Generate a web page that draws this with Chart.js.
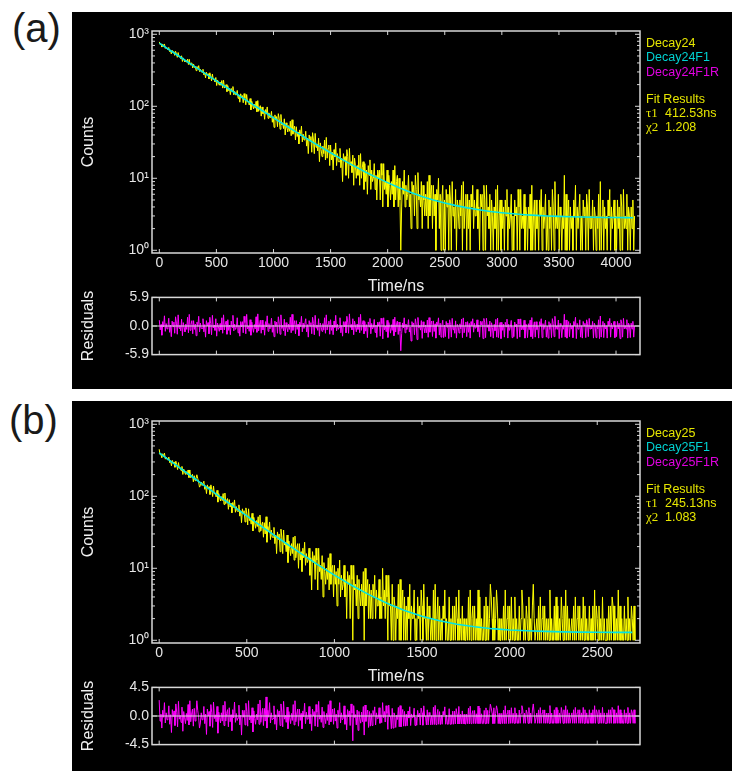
<!DOCTYPE html>
<html>
<head>
<meta charset="utf-8">
<title>Decay24 / Decay25 fits</title>
<script src="https://cdn.jsdelivr.net/npm/chart.js"></script>
<style>
  body { margin: 0; width: 732px; height: 771px; background: #fff; position: relative; overflow: hidden;
         font-family: 'Liberation Sans', Arial, sans-serif; }
  .panel { position: absolute; left: 72px; width: 660px; background: #000; }
  .tag { position: absolute; font-size: 40px; line-height: 40px; color: #1a1a1a; }
  canvas { position: absolute; left: 72px; }
  .leg { position: absolute; left: 646px; font-size: 12.5px; line-height: 14px; white-space: nowrap; }
  .leg .g { font-family: 'Liberation Serif', 'Times New Roman', serif; font-size: 13px; }
  .leg .v { position: absolute; left: 19px; }
</style>
</head>
<body>
  <div class="panel" style="top:12px;height:377px"></div>
  <div class="panel" style="top:401px;height:370px"></div>
  <div class="tag" style="left:12px;top:8px">(a)</div>
  <div class="tag" style="left:9px;top:400px">(b)</div>

  <canvas id="mainA" width="660" height="286" style="top:12px"></canvas>
  <canvas id="resA" width="660" height="80" style="top:286px"></canvas>
  <canvas id="mainB" width="660" height="286" style="top:402px"></canvas>
  <canvas id="resB" width="660" height="80" style="top:676px"></canvas>

  <div class="leg" style="top:36px;color:#e6e600">Decay24</div>
  <div class="leg" style="top:50px;color:#00d2d2">Decay24F1</div>
  <div class="leg" style="top:65px;color:#e000e0">Decay24F1R</div>
  <div class="leg" style="top:92px;color:#e6e600">Fit Results</div>
  <div class="leg" style="top:105.5px;color:#e6e600"><span class="g">τ1</span><span class="v">412.53ns</span></div>
  <div class="leg" style="top:119.5px;color:#e6e600"><span class="g">χ2</span><span class="v">1.208</span></div>

  <div class="leg" style="top:426px;color:#e6e600">Decay25</div>
  <div class="leg" style="top:440px;color:#00d2d2">Decay25F1</div>
  <div class="leg" style="top:455px;color:#e000e0">Decay25F1R</div>
  <div class="leg" style="top:482px;color:#e6e600">Fit Results</div>
  <div class="leg" style="top:495.5px;color:#e6e600"><span class="g">τ1</span><span class="v">245.13ns</span></div>
  <div class="leg" style="top:509.5px;color:#e6e600"><span class="g">χ2</span><span class="v">1.083</span></div>

<script>
// ---- data ----
// (a) Decay24: 7.5 ns channels from 0 ns
const binA = 7.5;
const countsA = [
  785, 719, 736, 665, 727, 685, 734, 636, 666, 624,
  618, 657, 575, 602, 534, 600, 564, 574, 509, 581,
  537, 478, 558, 487, 491, 459, 503, 419, 470, 439,
  413, 438, 409, 452, 380, 449, 376, 393, 401, 340,
  387, 345, 358, 313, 357, 331, 367, 303, 326, 300,
  298, 327, 273, 293, 248, 297, 273, 283, 240, 292,
  264, 225, 281, 234, 240, 219, 251, 194, 232, 212,
  196, 216, 196, 228, 179, 230, 179, 193, 200, 160,
  193, 165, 176, 145, 177, 161, 188, 144, 161, 144,
  144, 166, 129, 144, 114, 149, 134, 141, 112, 150,
  131, 105, 146, 114, 118, 104, 128, 89, 117, 104,
  92, 107, 94, 117, 84, 120, 85, 96, 102, 73,
  98, 79, 88, 66, 90, 78, 98, 68, 81, 70,
  70, 85, 60, 72, 51, 76, 65, 72, 52, 79,
  67, 48, 77, 55, 59, 49, 67, 40, 59, 51,
  44, 54, 45, 62, 39, 65, 41, 48, 53, 34,
  52, 38, 44, 30, 47, 39, 53, 32, 41, 34,
  35, 45, 28, 36, 22, 40, 34, 38, 23, 43,
  34, 22, 42, 27, 30, 24, 36, 17, 31, 25,
  20, 28, 22, 34, 18, 37, 19, 26, 29, 15,
  29, 18, 23, 13, 25, 20, 31, 15, 22, 17,
  17, 26, 14, 19, 9, 22, 18, 20, 11, 25,
  20, 10, 26, 15, 17, 12, 21, 8, 19, 15,
  10, 15, 11, 21, 8, 22, 10, 14, 17, 7,
  16, 9, 13, 6, 15, 11, 18, 7, 13, 9,
  10, 16, 7, 11, 5, 13, 10, 13, 5, 16,
  11, 4, 16, 7, 9, 6, 13, 4, 11, 8,
  5, 9, 6, 13, 4, 15, 5, 9, 11, 4,
  10, 5, 1, 4, 9, 6, 13, 4, 8, 5,
  6, 11, 4, 6, 2, 9, 6, 8, 3, 11,
  7, 2, 12, 5, 6, 4, 9, 2, 8, 5,
  3, 6, 3, 9, 2, 11, 3, 6, 8, 2,
  8, 3, 6, 1, 7, 5, 10, 2, 6, 1,
  5, 8, 1, 5, 1, 7, 4, 6, 1, 8,
  5, 1, 9, 3, 4, 2, 7, 1, 5, 4,
  2, 5, 3, 8, 1, 9, 2, 4, 6, 1,
  6, 2, 5, 1, 6, 4, 8, 2, 5, 3,
  3, 7, 2, 4, 1, 6, 4, 6, 1, 8,
  5, 1, 8, 3, 4, 2, 6, 1, 5, 3,
  1, 4, 2, 7, 1, 8, 1, 3, 5, 1,
  5, 2, 4, 1, 5, 3, 7, 1, 4, 2,
  3, 6, 1, 3, 1, 5, 3, 4, 1, 7,
  4, 1, 7, 2, 3, 2, 6, 1, 4, 3,
  1, 4, 2, 6, 1, 8, 1, 3, 5, 1,
  5, 2, 3, 1, 5, 3, 7, 1, 4, 2,
  3, 6, 1, 3, 1, 5, 2, 4, 1, 7,
  4, 1, 9, 2, 3, 2, 6, 1, 4, 3,
  1, 3, 2, 11, 1, 6, 1, 3, 5, 1,
  4, 2, 3, 1, 5, 3, 8, 1, 4, 2,
  2, 6, 1, 3, 1, 5, 3, 4, 1, 6,
  4, 1, 7, 2, 3, 2, 5, 1, 4, 3,
  1, 3, 2, 6, 1, 9, 1, 3, 5, 1,
  4, 2, 3, 1, 5, 3, 7, 1, 4, 2,
  3, 5, 1, 3, 1, 5, 2, 4, 1, 6,
  4, 1, 7, 2, 3, 2, 6, 1, 4, 3,
  1, 4, 2, 5, 1, 3
];
const fitTimesA = [0, 100, 200, 300, 400, 500, 600, 700, 800, 900, 1000, 1100, 1200, 1300, 1400,
  1500, 1600, 1700, 1800, 1900, 2000, 2100, 2200, 2300, 2400, 2500, 2600, 2700, 2800, 2900,
  3000, 3100, 3200, 3300, 3400, 3500, 3600, 3700, 3800, 3900, 4000, 4100, 4150];
const fitValuesA = [753, 591, 465, 365, 287, 226, 178, 140, 110.6, 87.4, 69.2, 54.9, 43.7, 34.9, 28.0,
  22.6, 18.3, 15.0, 12.3, 10.3, 8.7, 7.4, 6.4, 5.6, 5.0, 4.55, 4.17, 3.88, 3.65, 3.46,
  3.32, 3.21, 3.12, 3.05, 3.0, 2.96, 2.92, 2.90, 2.87, 2.86, 2.85, 2.84, 2.83];
const residA = [
  1.2, -0.8, 0.3, -1.9, 0.9, -0.2, 2.1, -1.1, 0.5, -0.6,
  -0.4, 1.6, -1.3, 0.2, -2.2, 1.0, -0.1, 0.8, -1.5, 1.9,
  0.6, -1.7, 2.3, -0.5, 0.1, -1.0, 1.4, -2.0, 0.7, -0.3,
  -1.2, 0.4, -0.7, 1.8, -1.4, 2.4, -0.9, 0.3, 1.1, -1.6,
  1.1, -0.7, 0.4, -2.0, 0.8, -0.1, 2.0, -1.2, 0.6, -0.5,
  -0.5, 1.5, -1.2, 0.3, -2.3, 1.1, 0.0, 0.7, -1.6, 1.8,
  0.5, -1.8, 2.2, -0.4, 0.2, -0.9, 1.5, -2.1, 0.6, -0.2,
  -1.1, 0.5, -0.8, 1.7, -1.5, 2.3, -0.8, 0.4, 1.0, -1.7,
  1.3, -0.9, 0.2, -1.8, 1.0, -0.3, 2.2, -1.0, 0.4, -0.7,
  -0.3, 1.7, -1.4, 0.1, -2.1, 0.9, -0.2, 0.9, -1.4, 2.0,
  0.7, -1.6, 2.4, -0.6, 0.0, -1.1, 1.3, -1.9, 0.8, -0.4,
  -1.3, 0.3, -0.6, 1.9, -1.3, 2.5, -1.0, 0.2, 1.2, -1.5,
  1.2, -0.8, 0.3, -1.9, 0.9, -0.2, 2.1, -1.1, 0.5, -0.6,
  -0.4, 1.6, -1.3, 0.2, -2.2, 1.0, -0.1, 0.8, -1.5, 1.9,
  0.6, -1.7, 2.3, -0.5, 0.1, -1.0, 1.4, -2.0, 0.7, -0.3,
  -1.2, 0.4, -0.7, 1.8, -1.4, 2.4, -0.9, 0.3, 1.1, -1.6,
  1.1, -0.7, 0.4, -2.0, 0.8, -0.1, 2.0, -1.2, 0.6, -0.5,
  -0.5, 1.5, -1.2, 0.3, -2.3, 1.1, 0.0, 0.7, -1.6, 1.8,
  0.5, -1.8, 2.2, -0.4, 0.2, -0.9, 1.5, -2.1, 0.6, -0.2,
  -1.1, 0.5, -0.8, 1.7, -1.5, 2.3, -0.8, 0.4, 1.0, -1.7,
  1.3, -0.9, 0.2, -1.8, 1.0, -0.3, 2.2, -1.0, 0.4, -0.7,
  -0.3, 1.7, -1.4, 0.1, -2.1, 0.9, -0.2, 0.9, -1.4, 2.0,
  0.8, -1.5, 2.5, -0.3, 0.3, -0.8, 1.5, -1.8, 1.0, 0.0,
  -1.2, 0.4, -0.7, 1.8, -1.4, 2.4, -0.9, 0.3, 1.1, -1.6,
  0.9, -1.07, 0.28, -2.4, 0.85, -0.18, 1.56, -1.6, 0.53, -0.63,
  -0.25, 1.35, -1.32, 0.18, -2.35, 0.8, 0.0, 0.86, -2.1, 1.6,
  0.47, -2.65, 1.7, -0.8, 0.0, -1.18, 1.17, -2.35, 0.72, -0.18,
  -1.47, 0.27, -0.9, 1.36, -2.0, 1.83, -1.25, 0.43, 1.03, -1.75,
  0.82, -1.03, -5.1, -1.6, 0.63, -0.41, 1.69, -1.4, 0.42, -0.76,
  -0.27, 1.31, -1.25, -0.18, -3.1, 0.9, -0.1, 0.64, -1.8, 1.48,
  0.38, -2.8, 1.76, -0.38, 0.08, -0.85, 1.12, -2.55, 0.87, -0.22,
  -1.45, 0.22, -1.39, 1.22, -2.33, 1.73, -1.27, 0.35, 1.02, -2.16,
  1.06, -1.13, 0.45, -2.5, 0.83, 0.11, 1.68, -1.88, 0.57, -2.3,
  0.15, 1.19, -2.4, 0.19, -2.2, 0.94, -0.24, 0.63, -2.6, 1.27,
  0.29, -2.3, 1.57, -0.75, -0.1, -1.5, 1.06, -2.5, 0.36, -0.1,
  -1.45, 0.45, -0.6, 1.41, -2.4, 1.67, -1.4, 0.05, 0.83, -2.2,
  0.9, -1.3, 0.54, -2.5, 0.9, 0.1, 1.49, -1.27, 0.55, -0.45,
  -0.36, 1.27, -1.15, 0.19, -2.3, 0.97, 0.19, 0.97, -2.6, 1.55,
  0.67, -2.4, 1.59, -0.29, 0.25, -1.06, 1.02, -2.2, 0.67, -0.29,
  -2.5, 0.31, -0.97, 1.37, -2.3, 1.64, -2.4, -0.21, 0.73, -2.6,
  0.77, -0.9, 0.36, -2.3, 0.77, -0.16, 1.41, -2.5, 0.36, -0.9,
  -0.11, 1.15, -2.4, -0.11, -2.2, 0.81, -0.11, 0.41, -2.6, 1.44,
  0.44, -2.3, 1.47, -0.79, -0.07, -0.79, 1.18, -2.5, 0.44, -0.07,
  -2.4, 0.47, -0.76, 1.2, -2.2, 1.74, -2.6, -0.04, 0.86, -2.3,
  0.88, -0.73, -0.02, -2.5, 0.88, -0.02, 1.5, -2.4, 0.49, -0.73,
  0.0, 1.22, -2.3, 0.0, -2.5, 0.89, -0.71, 0.5, -2.4, 1.51,
  0.52, -2.2, 2.0, -0.69, 0.02, -0.69, 1.24, -2.6, 0.52, 0.02,
  -2.4, 0.03, -0.67, 2.42, -2.3, 1.25, -2.5, 0.03, 0.92, -2.2,
  0.54, -0.65, 0.05, -2.4, 0.93, 0.05, 1.8, -2.6, 0.54, -0.65,
  -0.64, 1.27, -2.3, 0.06, -2.5, 0.94, 0.06, 0.55, -2.4, 1.27,
  0.56, -2.2, 1.56, -0.62, 0.07, -0.62, 0.95, -2.5, 0.56, 0.07,
  -2.4, 0.08, -0.62, 1.28, -2.6, 2.05, -2.3, 0.08, 0.95, -2.4,
  0.57, -0.61, 0.08, -2.5, 0.96, 0.08, 1.56, -2.3, 0.57, -0.61,
  0.08, 0.96, -2.4, 0.08, -2.2, 0.96, -0.61, 0.57, -2.6, 1.28,
  0.58, -2.3, 1.57, -0.6, 0.09, -0.6, 1.29, -2.5, 0.58, 0.09,
  -2.4, 0.58, -0.6, 0.96, -2.3, 0.09
];

// (b) Decay25: 5 ns channels from 0 ns
const binB = 5;
const countsB = [
  450, 378, 392, 342, 390, 360, 398, 328, 351, 324,
  320, 350, 293, 313, 265, 315, 290, 300, 253, 307,
  276, 235, 294, 245, 250, 227, 260, 201, 239, 218,
  201, 220, 200, 232, 182, 232, 181, 194, 202, 159,
  193, 165, 176, 199, 177, 159, 134, 141, 158, 141,
  141, 162, 125, 140, 109, 144, 129, 136, 106, 144,
  125, 99, 139, 107, 111, 98, 121, 83, 109, 96,
  86, 99, 87, 109, 77, 111, 79, 88, 93, 66,
  90, 71, 80, 59, 82, 70, 89, 60, 72, 62,
  62, 76, 53, 63, 43, 67, 57, 63, 44, 69,
  57, 40, 67, 46, 50, 41, 58, 33, 51, 43,
  36, 46, 38, 52, 32, 55, 33, 40, 44, 27,
  43, 30, 52, 23, 38, 32, 44, 25, 34, 27,
  27, 37, 22, 29, 16, 32, 25, 30, 17, 35,
  27, 16, 34, 21, 23, 17, 29, 12, 24, 19,
  15, 22, 16, 27, 13, 28, 14, 19, 22, 10,
  22, 13, 17, 9, 19, 14, 23, 11, 16, 12,
  13, 19, 8, 14, 5, 17, 12, 15, 7, 19,
  13, 5, 19, 9, 11, 7, 15, 4, 12, 9,
  6, 10, 7, 14, 5, 16, 6, 10, 11, 4,
  11, 6, 9, 3, 10, 6, 13, 4, 8, 5,
  6, 11, 4, 7, 2, 9, 6, 8, 2, 11,
  7, 1, 11, 5, 6, 3, 8, 2, 7, 4,
  3, 6, 3, 9, 1, 10, 3, 5, 7, 2,
  6, 2, 5, 2, 6, 4, 8, 2, 5, 3,
  3, 7, 2, 4, 2, 10, 3, 5, 2, 8,
  4, 1, 8, 3, 3, 1, 6, 1, 4, 3,
  1, 3, 2, 6, 1, 7, 1, 3, 5, 1,
  4, 1, 3, 1, 4, 2, 6, 1, 3, 2,
  2, 5, 1, 2, 1, 4, 2, 3, 1, 5,
  3, 1, 6, 2, 2, 1, 4, 1, 3, 2,
  1, 2, 1, 5, 1, 6, 1, 2, 4, 1,
  3, 1, 2, 1, 3, 2, 5, 1, 2, 1,
  1, 4, 1, 2, 1, 3, 1, 3, 1, 4,
  2, 1, 5, 1, 2, 1, 3, 1, 2, 1,
  1, 2, 1, 4, 1, 5, 1, 2, 3, 1,
  3, 1, 2, 1, 5, 1, 4, 1, 2, 1,
  1, 3, 1, 4, 1, 3, 1, 2, 6, 4,
  2, 1, 4, 1, 2, 5, 3, 1, 2, 1,
  1, 2, 1, 3, 1, 5, 1, 2, 3, 1,
  3, 1, 4, 1, 2, 1, 4, 1, 2, 1,
  1, 3, 1, 2, 5, 3, 1, 2, 1, 3,
  2, 1, 4, 1, 2, 1, 3, 6, 2, 1,
  1, 2, 1, 3, 1, 4, 1, 2, 3, 1,
  3, 1, 2, 1, 2, 1, 5, 1, 2, 1,
  1, 3, 1, 4, 1, 3, 1, 2, 1, 4,
  2, 1, 3, 1, 5, 1, 3, 1, 2, 1,
  1, 2, 1, 3, 1, 4, 1, 2, 3, 1,
  3, 1, 2, 1, 4, 1, 3, 1, 2, 1,
  1, 3, 1, 2, 1, 3, 1, 5, 1, 3,
  2, 1, 3, 1, 2, 1, 4, 1, 2, 1,
  1, 2, 1, 3, 1, 3, 1, 4, 3, 1,
  3, 1, 2, 1, 5, 1, 3, 1, 2, 1,
  1, 3, 1, 2, 1, 4, 1, 2, 1, 3,
  2, 1, 3, 1
];
const fitTimesB = [0, 100, 200, 300, 400, 500, 600, 700, 800, 900, 1000, 1100, 1200, 1300,
  1400, 1500, 1600, 1700, 1800, 1900, 2000, 2100, 2200, 2300, 2400, 2500, 2600, 2700];
const fitValuesB = [401, 267, 178, 119, 79.5, 53.3, 35.9, 24.3, 16.6, 11.45, 8.04, 5.78, 4.27, 3.27,
  2.60, 2.16, 1.87, 1.67, 1.54, 1.45, 1.39, 1.36, 1.33, 1.31, 1.30, 1.295, 1.29, 1.287];
const residB = [
  2.5, -0.8, 0.3, -1.9, 0.9, -0.2, 2.1, -1.1, 0.5, -0.6,
  -0.4, 1.6, -1.3, 0.2, -2.6, 1.0, -0.1, 0.8, -1.5, 1.9,
  0.6, -1.7, 2.3, -0.5, 0.1, -1.0, 1.4, -2.4, 0.7, -0.3,
  -1.2, 0.4, -0.7, 1.8, -1.4, 2.4, -0.9, 0.3, 1.1, -1.6,
  1.2, -0.8, 0.3, 2.4, 0.9, -0.2, -1.9, -1.1, 0.5, -0.6,
  -0.5, 1.5, -1.2, 0.3, -2.9, 1.1, 0.0, 0.7, -1.6, 1.8,
  0.5, -1.8, 2.2, -0.4, 0.2, -0.9, 1.5, -2.7, 0.6, -0.2,
  -1.1, 0.5, -0.8, 1.7, -1.5, 2.3, -0.8, 0.4, 1.0, -1.7,
  1.3, -0.9, 0.2, -2.3, 1.0, -0.3, 2.2, -1.0, 0.4, -0.7,
  -0.3, 1.7, -1.4, 0.1, -3.0, 0.9, -0.2, 0.9, -1.4, 2.0,
  0.7, -1.6, 2.4, -0.6, 0.0, -1.1, 1.3, -2.5, 0.8, -0.4,
  -1.3, 0.3, -0.6, 1.9, -1.3, 2.5, -1.0, 0.2, 1.2, -1.5,
  1.2, -0.8, 3.0, -1.9, 0.9, -0.2, 2.1, -1.1, 0.5, -0.6,
  -0.4, 1.6, -1.3, 0.2, -2.2, 1.0, -0.1, 0.8, -1.5, 1.9,
  0.6, -1.7, 2.3, -0.5, 0.1, -1.0, 1.4, -2.0, 0.7, -0.3,
  -1.2, 0.4, -0.7, 1.8, -1.4, 2.4, -0.9, 0.3, 1.1, -1.6,
  1.1, -0.7, 0.4, -2.0, 0.8, -0.1, 2.0, -1.2, 0.6, -0.5,
  -0.5, 1.5, -1.2, 0.3, -2.3, 1.1, 0.0, 0.7, -1.6, 1.8,
  0.6, -1.7, 2.3, -0.5, 0.1, -1.0, 1.4, -1.8, 0.7, -0.3,
  -1.2, 0.4, -0.7, 1.8, -1.4, 2.4, -0.9, 0.3, 1.1, -1.3,
  1.2, -0.8, 0.3, -1.9, 0.9, -0.2, 2.1, -1.1, 0.5, -0.6,
  -0.4, 1.6, -1.3, 0.2, -2.2, 1.0, -0.1, 0.8, -1.5, 1.9,
  0.46, -3.9, 1.63, -0.23, 0.22, -1.39, 0.95, -2.26, 0.72, -0.5,
  -1.13, 0.6, -0.9, 1.49, -3.0, 1.73, -0.85, 0.2, 0.94, -1.8,
  0.71, -1.6, 0.4, -1.5, 0.86, 0.05, 1.44, -1.4, 0.5, -0.42,
  -0.4, 1.3, -1.15, 0.2, -1.05, 2.1, -0.25, 0.72, -0.95, 1.62,
  0.4, -2.1, 1.72, -0.1, -0.05, -2.0, 1.2, -1.9, 0.5, 0.05,
  -1.8, 0.12, -0.55, 1.35, -1.7, 1.63, -1.7, 0.16, 1.03, -1.6,
  0.72, -1.6, 0.3, -1.55, 0.77, -0.32, 1.45, -1.5, 0.33, -0.27,
  -0.2, 1.22, -1.5, -0.17, -1.45, 0.88, -0.15, 0.45, -1.4, 1.25,
  0.5, -1.45, 1.6, -0.06, -0.04, -1.4, 0.97, -1.4, 0.55, 0.03,
  -1.4, 0.05, -1.35, 1.38, -1.35, 1.67, -1.35, 0.06, 1.04, -1.3,
  0.69, -1.35, 0.13, -1.3, 0.7, 0.14, 1.44, -1.3, 0.15, -1.3,
  -1.3, 1.15, -1.3, 0.21, -1.3, 0.76, -1.3, 0.76, -1.25, 1.16,
  0.26, -1.25, 1.5, -1.25, 0.27, -1.25, 0.8, -1.25, 0.27, -1.25,
  -1.25, 0.3, -1.2, 1.22, -1.25, 1.54, -1.2, 0.31, 0.84, -1.2,
  0.87, -1.2, 0.35, -1.2, 1.56, -1.2, 1.25, -1.2, 0.35, -1.2,
  -1.2, 0.88, -1.2, 1.28, -1.2, 0.89, -1.2, 0.38, 1.85, 1.27,
  0.4, -1.2, 1.29, -1.2, 0.4, 1.6, 0.91, -1.2, 0.41, -1.2,
  -1.2, 0.42, -1.2, 0.92, -1.2, 1.61, -1.2, 0.42, 0.92, -1.2,
  0.93, -1.15, 1.3, -1.15, 0.43, -1.15, 1.3, -1.15, 0.43, -1.15,
  -1.15, 0.94, -1.15, 0.45, 1.62, 0.94, -1.15, 0.45, -1.15, 0.94,
  0.46, -1.15, 1.32, -1.15, 0.46, -1.15, 0.95, 1.9, 0.46, -1.15,
  -1.15, 0.47, -1.15, 0.96, -1.15, 1.33, -1.15, 0.47, 0.96, -1.15,
  0.96, -1.15, 0.47, -1.15, 0.47, -1.15, 1.64, -1.15, 0.47, -1.15,
  -1.15, 0.97, -1.15, 1.34, -1.15, 0.97, -1.15, 0.48, -1.15, 1.34,
  0.49, -1.15, 0.98, -1.15, 1.62, -1.15, 0.98, -1.15, 0.49, -1.15,
  -1.15, 0.49, -1.15, 0.98, -1.15, 1.35, -1.15, 0.49, 0.98, -1.15,
  0.98, -1.15, 0.49, -1.15, 1.35, -1.15, 0.98, -1.15, 0.49, -1.15,
  -1.15, 0.98, -1.15, 0.49, -1.15, 0.98, -1.15, 1.62, -1.15, 0.98,
  0.49, -1.15, 0.98, -1.15, 0.49, -1.15, 1.35, -1.15, 0.49, -1.15,
  -1.15, 0.49, -1.15, 0.98, -1.15, 0.98, -1.15, 1.35, 0.98, -1.15,
  0.98, -1.15, 0.49, -1.15, 1.62, -1.15, 0.98, -1.15, 0.49, -1.15,
  -1.15, 0.98, -1.15, 0.49, -1.15, 1.35, -1.15, 0.49, -1.15, 0.98,
  0.49, -1.15, 0.98, -1.15
];

// ---- axes ----
const xTicksA = [0, 500, 1000, 1500, 2000, 2500, 3000, 3500, 4000];
const xTicksB = [0, 500, 1000, 1500, 2000, 2500];
const countTicks = [1, 10, 100, 1000];
const countTickLabels = ['10⁰', '10¹', '10²', '10³'];
const residTicksA = [-5.9, 0, 5.9];
const residTicksB = [-4.5, 0, 4.5];

const minorCounts = [];
for (let k = 0; k < 3; k++) {
  for (let m = 2; m <= 9; m++) minorCounts.push(m * Math.pow(10, k));
}

const tickFont = { family: "'Liberation Sans Narrow', 'Liberation Sans', Arial, sans-serif", size: 14 };
const titleFont = { family: "'Liberation Sans', Arial, sans-serif", size: 16 };

// frame with inward ticks on every side, drawn over the data
const frameTicks = {
  id: 'frameTicks',
  afterDatasetsDraw(chart, args, opts) {
    const { ctx, chartArea: a, scales: { x, y } } = chart;
    const seg = (x1, y1, x2, y2) => { ctx.beginPath(); ctx.moveTo(x1, y1); ctx.lineTo(x2, y2); ctx.stroke(); };
    ctx.save();
    ctx.strokeStyle = '#d8d8d8';
    ctx.lineWidth = 1;
    if (opts.zero) {
      const py = y.getPixelForValue(0);
      seg(a.left, py, a.right, py);
    }
    opts.xMajor.forEach(v => {
      const px = x.getPixelForValue(v);
      seg(px, a.bottom, px, a.bottom - 4);
      seg(px, a.top, px, a.top + 4);
    });
    opts.yMajor.forEach(v => {
      const py = y.getPixelForValue(v);
      seg(a.left, py, a.left + 5, py);
      seg(a.right, py, a.right - 5, py);
    });
    (opts.yMinor || []).forEach(v => {
      const py = y.getPixelForValue(v);
      seg(a.left, py, a.left + 3, py);
      seg(a.right, py, a.right - 3, py);
    });
    ctx.lineWidth = 1.5;
    ctx.strokeRect(a.left, a.top, a.right - a.left, a.bottom - a.top);
    ctx.restore();
  }
};

function mainChart(id, bin, counts, fitT, fitV, xMin, xMax, xTicks, names) {
  return new Chart(document.getElementById(id), {
    type: 'line',
    data: {
      datasets: [
        { label: names[1], data: fitT.map((t, i) => ({ x: t, y: fitV[i] })),
          borderColor: '#00e5e5', borderWidth: 1.6, pointRadius: 0, order: 0 },
        { label: names[0], data: counts.map((c, i) => ({ x: i * bin, y: c })),
          borderColor: '#ffff00', borderWidth: 1, pointRadius: 0, order: 1 }
      ]
    },
    options: {
      responsive: false, animation: false,
      layout: { padding: { top: 19, right: 92, left: 0, bottom: 0 } },
      plugins: { legend: { display: false }, tooltip: { enabled: false },
        frameTicks: { xMajor: xTicks, yMajor: countTicks, yMinor: minorCounts } },
      scales: {
        x: {
          type: 'linear', min: xMin, max: xMax, bounds: 'data',
          afterBuildTicks: s => { s.ticks = xTicks.map(v => ({ value: v })); },
          afterFit: s => { s.height = 45; },
          grid: { display: false, drawTicks: false }, border: { display: false },
          ticks: { color: '#e6e6e6', font: tickFont, padding: 2, maxRotation: 0, autoSkip: false,
            callback: v => String(v) },
          title: { display: true, text: 'Time/ns', color: '#f0f0f0', font: titleFont, padding: { top: 0, bottom: 2 } }
        },
        y: {
          type: 'logarithmic', min: 0.917, max: 1111, bounds: 'data',
          afterBuildTicks: s => { s.ticks = countTicks.map(v => ({ value: v })); },
          afterFit: s => { s.width = 80; },
          grid: { display: false, drawTicks: false }, border: { display: false },
          ticks: { color: '#e6e6e6', font: tickFont, padding: 3, autoSkip: false,
            callback: v => countTickLabels[countTicks.indexOf(v)] },
          title: { display: true, text: 'Counts', color: '#f0f0f0', font: titleFont, padding: { top: 7, bottom: 0 } }
        }
      }
    },
    plugins: [frameTicks]
  });
}

function residChart(id, bin, resid, xMin, xMax, xTicks, yTicks, name) {
  const lim = yTicks[yTicks.length - 1];
  return new Chart(document.getElementById(id), {
    type: 'line',
    data: {
      datasets: [
        { label: name, data: resid.map((r, i) => ({ x: i * bin, y: r })),
          borderColor: '#ff00ff', borderWidth: 1, pointRadius: 0 }
      ]
    },
    options: {
      responsive: false, animation: false,
      layout: { padding: { top: 10.7, right: 92, left: 0, bottom: 0 } },
      plugins: { legend: { display: false }, tooltip: { enabled: false },
        frameTicks: { xMajor: xTicks, yMajor: yTicks, zero: true } },
      scales: {
        x: {
          type: 'linear', min: xMin, max: xMax, bounds: 'data',
          afterFit: s => { s.height = 8.7; },
          grid: { display: false, drawTicks: false }, border: { display: false },
          ticks: { display: false }
        },
        y: {
          type: 'linear', min: -lim, max: lim, bounds: 'data',
          afterBuildTicks: s => { s.ticks = yTicks.map(v => ({ value: v })); },
          afterFit: s => { s.width = 80; },
          grid: { display: false, drawTicks: false }, border: { display: false },
          ticks: { color: '#e6e6e6', font: tickFont, padding: 3, autoSkip: false,
            callback: v => v.toFixed(1) },
          title: { display: true, text: 'Residuals', color: '#f0f0f0', font: titleFont, padding: { top: 7, bottom: 0 } }
        }
      }
    },
    plugins: [frameTicks]
  });
}

mainChart('mainA', binA, countsA, fitTimesA, fitValuesA, -64, 4210, xTicksA, ['Decay24', 'Decay24F1']);
residChart('resA', binA, residA, -64, 4210, xTicksA, residTicksA, 'Decay24F1R');
mainChart('mainB', binB, countsB, fitTimesB, fitValuesB, -41, 2744, xTicksB, ['Decay25', 'Decay25F1']);
residChart('resB', binB, residB, -41, 2744, xTicksB, residTicksB, 'Decay25F1R');
</script>
</body>
</html>
